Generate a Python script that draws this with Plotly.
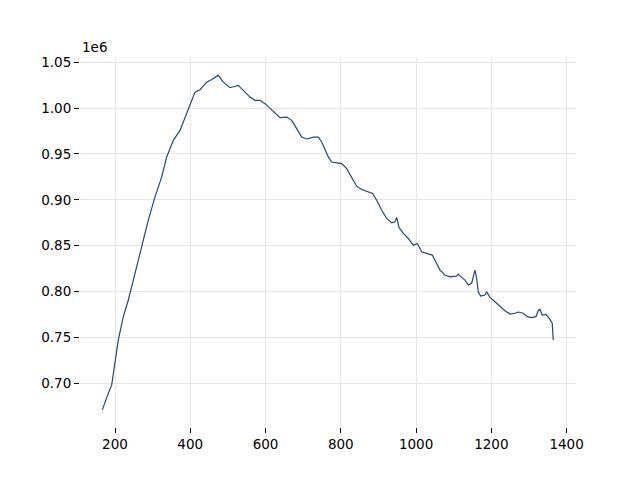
import plotly.graph_objects as go

# values
x_vals = [166.3, 173.5, 182.3, 191.3, 200.0, 208.8, 222.1, 235.4, 253.2, 271.0,
          288.5, 306.3, 324.1, 337.4, 354.9, 372.7, 386.0, 399.3, 412.6, 425.9,
          443.7, 457.0, 474.5, 487.8, 505.6, 527.6, 540.9, 558.7, 572.0, 585.3,
          598.6, 611.9, 625.1, 638.4, 656.2, 669.5, 682.8, 696.1, 709.4, 726.9,
          740.2, 749.2, 755.3, 766.7, 775.8, 789.0, 802.3, 815.6, 828.9, 842.2,
          855.5, 873.0, 884.7, 895.3, 908.6, 921.9, 935.2, 943.9, 948.5, 954.6,
          966.0, 979.3, 992.6, 1003.2, 1014.9, 1028.2, 1043.1, 1054.7, 1063.5, 1076.8,
          1090.0, 1107.8, 1112.0, 1121.0, 1130.0, 1138.7, 1147.7, 1152.0, 1156.5, 1161.0,
          1165.3, 1171.6, 1183.0, 1187.6, 1196.3, 1209.6, 1222.9, 1236.2, 1249.5, 1262.8,
          1271.5, 1284.8, 1295.4, 1307.1, 1318.5, 1324.7, 1329.2, 1335.3, 1345.1, 1353.9,
          1361.9, 1364.5]
y_vals = [670900, 680000, 689100, 698100, 725300, 747100, 772500, 790700, 819700, 848700,
          877800, 903100, 924900, 946700, 964800, 975700, 990200, 1004800, 1017400, 1020000,
          1028300, 1031200, 1035600, 1028300, 1022200, 1024700, 1019300, 1012000, 1008400, 1008400,
          1004800, 999300, 993900, 989500, 990200, 986600, 977600, 968400, 966300, 968400,
          968400, 963000, 957500, 946700, 941200, 940600, 939500, 934000, 924900, 914800,
          911200, 908600, 906800, 899500, 888600, 879600, 874800, 875900, 880700, 869800,
          863300, 857800, 850500, 852400, 843200, 841500, 839700, 830600, 823300, 817900,
          816000, 816800, 819000, 815400, 812400, 807000, 808800, 816000, 823300, 814300,
          799700, 795000, 796100, 799700, 793600, 788800, 784100, 779000, 775400, 776200,
          777600, 776200, 772500, 771400, 772500, 779000, 780500, 774300, 775100, 770700,
          765300, 747100]

x_ticks = [200, 400, 600, 800, 1000, 1200, 1400]
y_ticks = [700000, 750000, 800000, 850000, 900000, 950000, 1000000, 1050000]
y_tick_labels = ["0.70", "0.75", "0.80", "0.85", "0.90", "0.95", "1.00", "1.05"]

fig = go.Figure()
fig.add_trace(go.Scatter(x=x_vals, y=y_vals, mode="lines",
                         line=dict(color="#2b4668", width=1.2)))

axis_style = dict(showline=False, zeroline=False, showgrid=True,
                  gridcolor="#e6e6e6", gridwidth=1,
                  ticks="outside", ticklen=5, tickwidth=1.1, tickcolor="black")

# the page body adds an 8px offset, so margins are shifted to compensate
fig.update_layout(
    width=640, height=480,
    margin=dict(l=72, r=72, t=50, b=61),
    paper_bgcolor="white", plot_bgcolor="white",
    showlegend=False,
    font=dict(family="DejaVu Sans", size=13.5, color="black"),
    xaxis=dict(range=[107, 1425], tickvals=x_ticks, **axis_style),
    yaxis=dict(range=[652200, 1054600], tickvals=y_ticks, ticktext=y_tick_labels, **axis_style),
    annotations=[dict(text="1e6", xref="paper", yref="paper", x=0, y=1,
                      xanchor="left", yanchor="bottom", yshift=1, showarrow=False,
                      font=dict(size=13.5))],
)

fig.write_html("out.html")
